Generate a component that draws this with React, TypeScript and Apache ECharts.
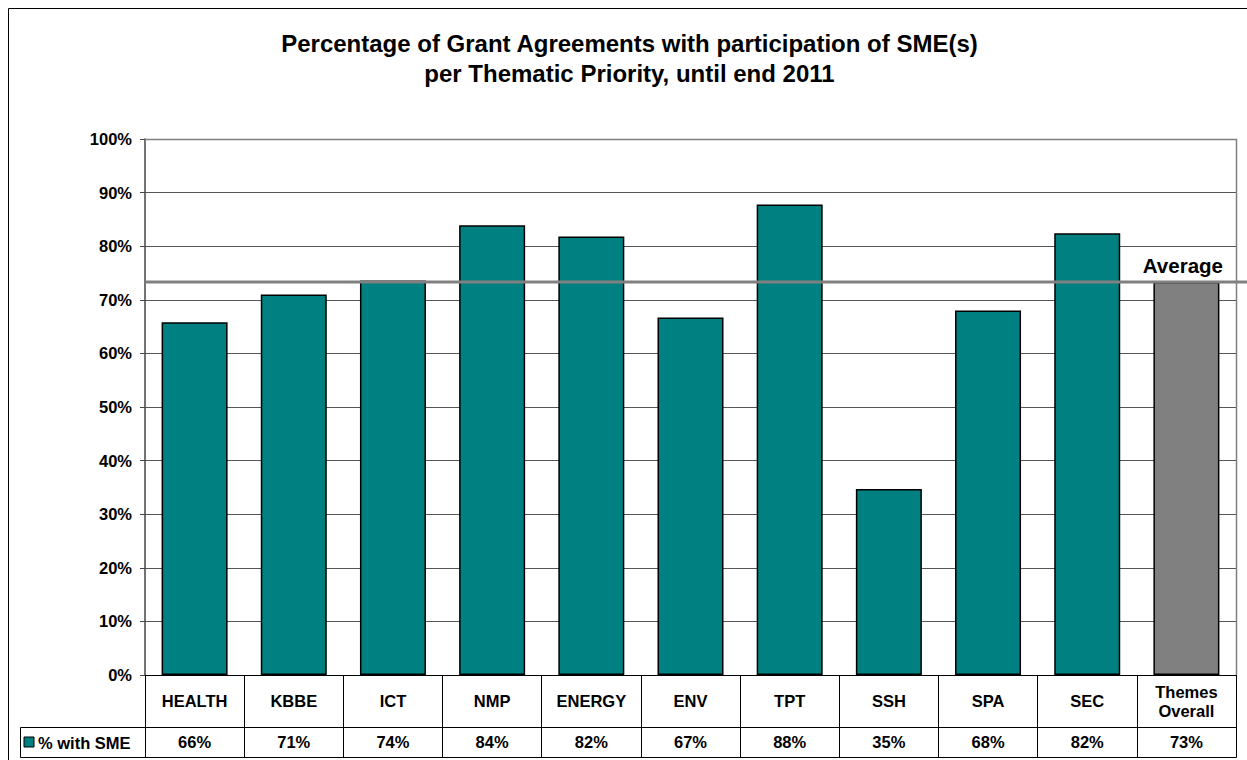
import React, { useEffect, useRef } from "react";
import * as echarts from "echarts";

const categories = ["HEALTH", "KBBE", "ICT", "NMP", "ENERGY", "ENV", "TPT", "SSH", "SPA", "SEC", "Themes\nOverall"];
const values = [0.658, 0.71, 0.736, 0.839, 0.818, 0.667, 0.878, 0.347, 0.68, 0.824, 0.733];
const valueLabels = ["66%", "71%", "74%", "84%", "82%", "67%", "88%", "35%", "68%", "82%", "73%"];
const averageValue = 0.733;
const seriesName = "% with SME";
const titleLines = ["Percentage of Grant Agreements with participation of SME(s)", "per Thematic Priority, until end 2011"];

const FONT = "'Liberation Sans', Arial, sans-serif";
const TEAL = "#008080";
const GRAY = "#808080";
const LABEL_SIZE = 16.5;

export default function App() {
  const ref = useRef<HTMLDivElement>(null);
  useEffect(() => {
    document.body.style.margin = "0";
    const chart = echarts.init(ref.current!, null, { renderer: "svg" });
    const gridLeft = 145, gridTop = 139, gridRightX = 1236, gridBottomY = 675;
    const option: any = {
      animation: false,
      backgroundColor: "#fff",
      textStyle: { fontFamily: FONT },
      grid: { left: gridLeft, top: gridTop, right: 1247 - gridRightX, bottom: 760 - gridBottomY, containLabel: false },
      xAxis: [
        {
          type: "category",
          data: categories,
          position: "bottom",
          axisLine: { show: true, lineStyle: { color: "#000", width: 1 } },
          axisTick: { show: true, length: 52, alignWithLabel: false, lineStyle: { color: "#000", width: 1 } },
          axisLabel: { interval: 0, margin: 26, verticalAlign: "middle", color: "#000", fontWeight: "bold", fontSize: LABEL_SIZE, fontFamily: FONT, lineHeight: 19 },
        },
        {
          type: "category",
          data: valueLabels,
          position: "bottom",
          offset: 52,
          axisLine: { show: true, lineStyle: { color: "#000", width: 1 } },
          axisTick: { show: true, length: 30, alignWithLabel: false, lineStyle: { color: "#000", width: 1 } },
          axisLabel: { interval: 0, margin: 15, verticalAlign: "middle", color: "#000", fontWeight: "bold", fontSize: LABEL_SIZE, fontFamily: FONT },
        },
      ],
      yAxis: {
        type: "value",
        min: 0,
        max: 1,
        interval: 0.1,
        axisLine: { show: true, lineStyle: { color: "#444", width: 1.5 } },
        axisTick: { show: true, length: 5, lineStyle: { color: "#444" } },
        axisLabel: {
          margin: 13,
          color: "#000",
          fontWeight: "bold",
          fontSize: LABEL_SIZE,
          fontFamily: FONT,
          formatter: (v: number) => Math.round(v * 100) + "%",
        },
        splitLine: { show: true, lineStyle: { color: "#555", width: 1 } },
      },
      series: [
        {
          name: seriesName,
          type: "bar",
          xAxisIndex: 0,
          data: values.map((v, i) => ({
            value: v,
            itemStyle: { color: i === values.length - 1 ? GRAY : TEAL },
          })),
          barWidth: 66,
          itemStyle: { borderColor: "#000", borderWidth: 1.5 },
          z: 3,
        },
      ],
      graphic: [
        {
          type: "text",
          x: 629.5,
          y: 43.5,
          style: { text: titleLines[0], font: `bold 24px ${FONT}`, fill: "#000", align: "center", verticalAlign: "middle" },
        },
        {
          type: "text",
          x: 629.5,
          y: 73.5,
          style: { text: titleLines[1], font: `bold 24px ${FONT}`, fill: "#000", align: "center", verticalAlign: "middle" },
        },
        {
          type: "rect",
          shape: { x: 8.5, y: 8.5, width: 1260, height: 800 },
          style: { fill: "none", stroke: "#000", lineWidth: 1 },
          z: 100,
        },
        {
          type: "polyline",
          shape: { points: [[gridLeft, gridTop + 0.5], [gridRightX + 0.5, gridTop + 0.5], [gridRightX + 0.5, gridBottomY]] },
          style: { fill: "none", stroke: GRAY, lineWidth: 1.5 },
          z: 50,
        },
        {
          type: "rect",
          shape: { x: 20.5, y: 727.5, width: gridRightX - 20, height: 30 },
          style: { fill: "none", stroke: "#000", lineWidth: 1 },
          z: 50,
        },
        {
          type: "rect",
          shape: { x: 24, y: 737, width: 10, height: 10 },
          style: { fill: TEAL, stroke: "#000", lineWidth: 1 },
          z: 51,
        },
        {
          type: "text",
          x: 38,
          y: 743,
          style: { text: seriesName, font: `bold ${LABEL_SIZE}px ${FONT}`, fill: "#000", verticalAlign: "middle", align: "left" },
          z: 51,
        },
      ],
    };
    chart.setOption(option);
    const avgY = chart.convertToPixel({ yAxisIndex: 0 }, averageValue) as number;
    const lastX = chart.convertToPixel({ xAxisIndex: 0 }, categories.length - 1) as number;
    const graphics = option.graphic.concat([
      {
        type: "line",
        shape: { x1: gridLeft, y1: avgY, x2: 1247, y2: avgY },
        style: { stroke: GRAY, lineWidth: 3 },
        z: 60,
      },
      {
        type: "text",
        x: lastX - 3.5,
        y: avgY - 17,
        style: { text: "Average", font: `bold 20.5px ${FONT}`, fill: "#000", align: "center", verticalAlign: "middle" },
        z: 60,
      },
    ]);
    chart.setOption({ graphic: graphics }, { replaceMerge: ["graphic"] });
    return () => chart.dispose();
  }, []);
  return <div ref={ref} style={{ width: 1247, height: 760, overflow: "hidden" }} />;
}
